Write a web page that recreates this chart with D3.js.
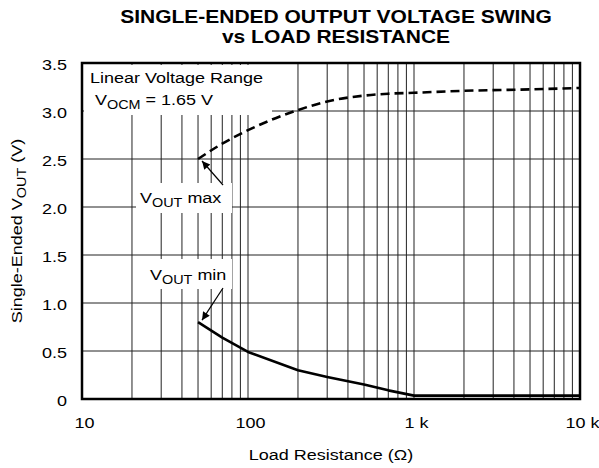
<!DOCTYPE html>
<html>
<head>
<meta charset="utf-8">
<script src="https://cdn.jsdelivr.net/npm/d3@7"></script>
<style>
  body { margin: 0; background: #fff; }
  svg { display: block; font-family: "Liberation Sans", Arial, sans-serif; }
</style>
</head>
<body>
<svg width="599" height="468"></svg>
<script>
// data
var resistance = [50, 70, 100, 200, 300, 500, 700, 1000, 2000, 5000, 10000];
var voutMax = [2.5, 2.66, 2.8, 3.01, 3.1, 3.16, 3.18, 3.19, 3.21, 3.225, 3.24];
var voutMin = [0.8, 0.64, 0.49, 0.3, 0.23, 0.15, 0.09, 0.035, 0.035, 0.035, 0.035];
var xTicks = [10, 100, 1000, 10000];
var xTickLabels = ["10", "100", "1 k", "10 k"];
var yTicks = [0, 0.5, 1, 1.5, 2, 2.5, 3, 3.5];
var yTickLabels = ["0", "0.5", "1.0", "1.5", "2.0", "2.5", "3.0", "3.5"];

var pL = 82, pR = 580, pT = 63, pB = 399;
var SX = 1.2; // text is drawn a bit wide in the original

var svg = d3.select("svg");

var x = d3.scaleLog().domain([10, 10000]).range([pL, pR]);
var y = d3.scaleLinear().domain([0, 3.5]).range([pB, pT]);

// text helper, stretched horizontally
function label(g, px, py, anchor, size, weight, rot) {
    var t = g.append("text")
        .attr("transform", "translate(" + px + "," + py + ")" + (rot ? " rotate(" + rot + ")" : "") + " scale(" + SX + ",1)")
        .attr("text-anchor", anchor)
        .attr("font-size", size)
        .attr("font-weight", weight || "normal")
        .attr("fill", "#000");
    return t;
}
function sub(t, main, s, rest, size) {
    t.append("tspan").text(main);
    t.append("tspan").attr("dy", 4).attr("font-size", size * 0.8).text(s);
    t.append("tspan").attr("dy", -4).text(rest);
}

// title
label(svg, 336, 23, "middle", 17.5, "bold").text("SINGLE-ENDED OUTPUT VOLTAGE SWING");
label(svg, 336, 43, "middle", 17.5, "bold").text("vs LOAD RESISTANCE");

// grid
var minor = [];
for (var d = 10; d < 10000; d *= 10)
    for (var k = 2; k <= 9; k++) minor.push(d * k);
var grid = svg.append("g").attr("stroke", "#222").attr("stroke-width", 1);
grid.selectAll("line.v").data(minor.concat([100, 1000])).enter().append("line")
    .attr("x1", function (d) { return x(d); }).attr("x2", function (d) { return x(d); })
    .attr("y1", pT).attr("y2", pB);
grid.selectAll("line.h").data(yTicks.slice(1, -1)).enter().append("line")
    .attr("x1", pL).attr("x2", pR)
    .attr("y1", function (d) { return y(d); }).attr("y2", function (d) { return y(d); });

// white boxes behind annotation text
svg.append("rect").attr("x", pL + 2).attr("y", pT + 2).attr("width", 188).attr("height", 50).attr("fill", "#fff");
svg.append("rect").attr("x", 136).attr("y", 183).attr("width", 96).attr("height", 30).attr("fill", "#fff");
svg.append("rect").attr("x", 146).attr("y", 259).attr("width", 86).attr("height", 30).attr("fill", "#fff");

// curves
var lineMax = d3.line()
    .x(function (d) { return x(d[0]); })
    .y(function (d) { return y(d[1]); })
    .curve(d3.curveMonotoneX);
var lineMin = d3.line()
    .x(function (d) { return x(d[0]); })
    .y(function (d) { return y(d[1]); });

svg.append("path")
    .attr("d", lineMax(d3.zip(resistance, voutMax)))
    .attr("fill", "none").attr("stroke", "#000").attr("stroke-width", 2.6)
    .attr("stroke-dasharray", "9,5");
svg.append("path")
    .attr("d", lineMin(d3.zip(resistance, voutMin)))
    .attr("fill", "none").attr("stroke", "#000").attr("stroke-width", 2.6)
    .attr("stroke-linejoin", "round");

// frame
svg.append("rect").attr("x", pL).attr("y", pT).attr("width", pR - pL).attr("height", pB - pT)
    .attr("fill", "none").attr("stroke", "#000").attr("stroke-width", 2.5);

// axes
var xAxis = svg.append("g").attr("transform", "translate(0," + pB + ")")
    .call(d3.axisBottom(x).tickValues(xTicks).tickSize(0).tickFormat(function (d, i) { return xTickLabels[i]; }));
var yAxis = svg.append("g").attr("transform", "translate(" + pL + ",0)")
    .call(d3.axisLeft(y).tickValues(yTicks).tickSize(0).tickFormat(function (d, i) { return yTickLabels[i]; }));
[xAxis, yAxis].forEach(function (a) {
    a.select(".domain").remove();
    a.selectAll("text").attr("font-size", 15).attr("font-family", "Liberation Sans, Arial, sans-serif").attr("fill", "#000");
});
xAxis.selectAll(".tick text").attr("y", 0).attr("dy", 0)
    .attr("transform", "translate(2,29) scale(" + SX + ",1)");
yAxis.selectAll(".tick text").attr("x", 0).attr("dy", "0.36em")
    .attr("transform", "translate(-15,1) scale(" + SX + ",1)");

// axis titles
label(svg, (pL + pR) / 2, 460, "middle", 15).text("Load Resistance (Ω)");
var yl = label(svg, 22, (pT + pB) / 2, "middle", 15, "normal", -90);
sub(yl, "Single-Ended V", "OUT", " (V)", 15);

// annotations
label(svg, 90, 83, "start", 15).text("Linear Voltage Range");
var ocm = label(svg, 95, 105, "start", 15);
sub(ocm, "V", "OCM", " = 1.65 V", 15);
var mx = label(svg, 140, 203, "start", 15);
sub(mx, "V", "OUT", " max", 15);
var mn = label(svg, 150, 280, "start", 15);
sub(mn, "V", "OUT", " min", 15);

// arrows
svg.append("defs").append("marker")
    .attr("id", "ah").attr("viewBox", "0 0 10 10").attr("refX", 10).attr("refY", 5)
    .attr("markerWidth", 13).attr("markerHeight", 8).attr("markerUnits", "userSpaceOnUse")
    .attr("orient", "auto")
    .append("path").attr("d", "M0,0 L10,5 L0,10 Z").attr("fill", "#000");
var arrows = [[223, 185, x(50) + 4, y(2.5) + 2], [223, 288, x(50) + 4, y(0.8) - 2]];
svg.selectAll("line.arrow").data(arrows).enter().append("line")
    .attr("x1", function (d) { return d[0]; }).attr("y1", function (d) { return d[1]; })
    .attr("x2", function (d) { return d[2]; }).attr("y2", function (d) { return d[3]; })
    .attr("stroke", "#000").attr("stroke-width", 1.2).attr("marker-end", "url(#ah)");
</script>
</body>
</html>
